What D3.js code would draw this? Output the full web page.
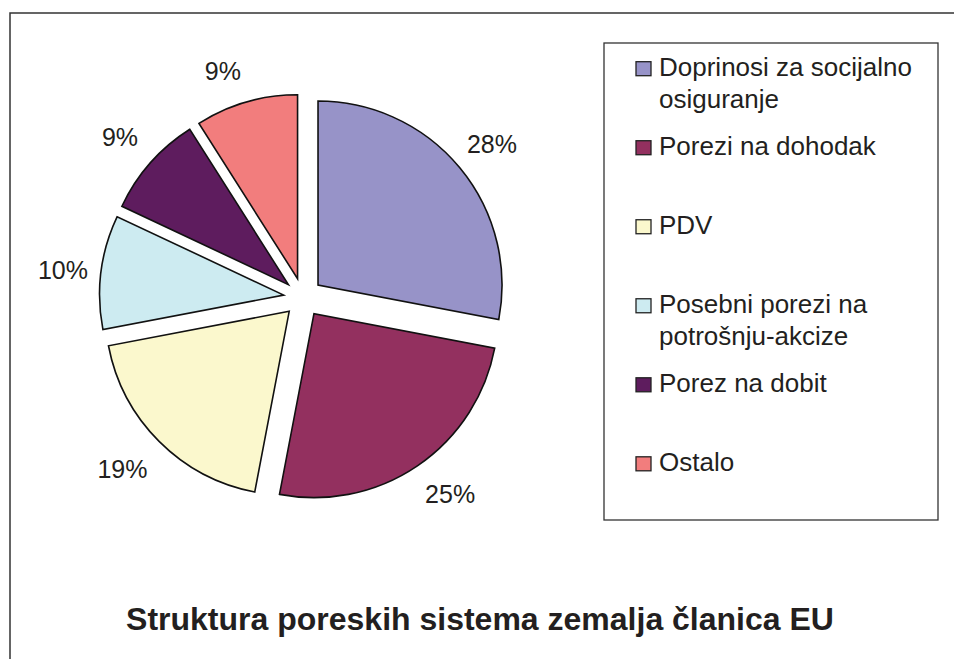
<!DOCTYPE html>
<html>
<head>
<meta charset="utf-8">
<script src="https://cdn.jsdelivr.net/npm/d3@7"></script>
<style>
  html, body { margin: 0; padding: 0; background: #fff; }
  svg { display: block; font-family: "Liberation Sans", Arial, sans-serif; }
</style>
</head>
<body>
<svg id="chart" width="954" height="659"></svg>
<script>
// ---- data ----
const categories = [
  "Doprinosi za socijalno osiguranje",
  "Porezi na dohodak",
  "PDV",
  "Posebni porezi na potrošnju-akcize",
  "Porez na dobit",
  "Ostalo"
];
const legendLines = [
  ["Doprinosi za socijalno", "osiguranje"],
  ["Porezi na dohodak"],
  ["PDV"],
  ["Posebni porezi na", "potrošnju-akcize"],
  ["Porez na dobit"],
  ["Ostalo"]
];
const values = [28, 25, 19, 10, 9, 9];
const colors = ["#9793C8", "#93305F", "#FBF8CD", "#CDEBF1", "#5E1C5E", "#F27D7D"];
const title = "Struktura poreskih sistema zemalja članica EU";

// ---- layout ----
const svg = d3.select("#chart");
const textColor = "#231F20";
const cx = 303, cy = 297.5, R = 184, explode = 19.5, labelR = 244;
// small label nudges (Excel label placement)
const labelShift = [[1, 2], [10, -5], [-8, -1], [2, 3], [0, 1], [-12, 8]];

// outer chart border (extends beyond the picture on right/bottom)
svg.append("rect")
  .attr("x", 10).attr("y", 13)
  .attr("width", 960).attr("height", 700)
  .attr("fill", "none").attr("stroke", "#333").attr("stroke-width", 1.5);

const total = d3.sum(values);
const pie = d3.pie().sort(null).value(d => d).startAngle(0).endAngle(2 * Math.PI);
const arcs = pie(values);
const arc = d3.arc().innerRadius(0).outerRadius(R);

const g = svg.append("g").attr("transform", `translate(${cx},${cy})`);

g.selectAll("path.slice")
  .data(arcs)
  .join("path")
  .attr("class", "slice")
  .attr("d", arc)
  .attr("transform", d => {
    const a = (d.startAngle + d.endAngle) / 2;
    return `translate(${explode * Math.sin(a)},${-explode * Math.cos(a)})`;
  })
  .attr("fill", (d, i) => colors[i])
  .attr("stroke", "#111")
  .attr("stroke-width", 1.6)
  .attr("stroke-linejoin", "miter");

g.selectAll("text.pct")
  .data(arcs)
  .join("text")
  .attr("class", "pct")
  .attr("x", (d, i) => labelR * Math.sin((d.startAngle + d.endAngle) / 2) + labelShift[i][0])
  .attr("y", (d, i) => -labelR * Math.cos((d.startAngle + d.endAngle) / 2) + labelShift[i][1])
  .attr("text-anchor", "middle")
  .attr("dominant-baseline", "central")
  .attr("font-size", 25)
  .attr("fill", textColor)
  .text(d => Math.round(d.data / total * 100) + "%");

// legend
const legX = 604, legY = 43, legW = 334, legH = 477;
svg.append("rect")
  .attr("x", legX).attr("y", legY).attr("width", legW).attr("height", legH)
  .attr("fill", "#fff").attr("stroke", "#333").attr("stroke-width", 1.3);

const legScale = d3.scalePoint().domain(d3.range(categories.length)).range([68.7, 463.8]);
const items = svg.selectAll("g.leg")
  .data(categories)
  .join("g")
  .attr("class", "leg")
  .attr("transform", (d, i) => `translate(636,${legScale(i)})`);

items.append("rect")
  .attr("x", 0).attr("y", -7).attr("width", 15).attr("height", 14)
  .attr("fill", (d, i) => colors[i])
  .attr("stroke", "#222").attr("stroke-width", 1.3);

items.append("text")
  .attr("x", 23).attr("y", 7)
  .attr("font-size", 26)
  .attr("fill", textColor)
  .each(function(d, i) {
    const t = d3.select(this);
    legendLines[i].forEach((line, k) => {
      t.append("tspan").attr("x", 23).attr("dy", k === 0 ? 0 : 32).text(line);
    });
  });

// title
svg.append("text")
  .attr("x", 480).attr("y", 630)
  .attr("text-anchor", "middle")
  .attr("font-size", 32)
  .attr("font-weight", "bold")
  .attr("fill", textColor)
  .text(title);
</script>
</body>
</html>
